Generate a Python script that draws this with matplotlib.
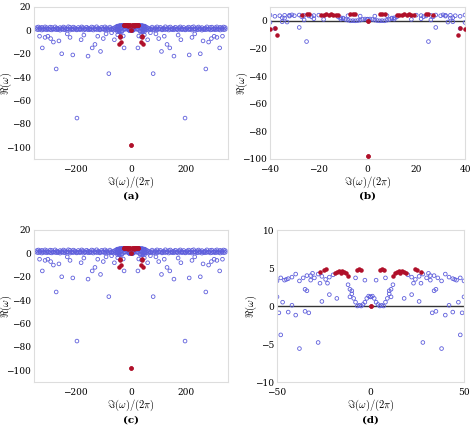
import matplotlib
matplotlib.use("Agg")
import matplotlib.pyplot as plt
import numpy as np

plt.rcParams['mathtext.fontset'] = 'cm'
plt.rcParams['font.family'] = 'DejaVu Serif'

# positive-half eigenvalues (spectrum symmetric in Im)
blue_in_x = [0,1,2,3,4,5,6,7,8,9,10,11,12,3,8,10,11,20,22,24,26,28,30,32,34,36,38,40,42,44,46,48,50,
             22,26,28,33,35,38,40,42,44,47,48,49,50,34,35,18,23,27,32,31,45]
blue_in_y = [1.2,1.3,1.0,0.5,0.2,0.0,0.1,0.0,0.5,1.0,1.6,2.2,2.8,3.4,3.7,2.0,1.2,4.1,3.8,3.5,3.9,4.2,3.7,3.4,4.0,3.7,3.3,4.2,3.8,3.6,3.4,3.7,3.3,
             1.5,0.6,-4.8,-0.9,-0.7,-5.6,-1.2,0.1,-0.8,0.5,-3.8,-0.9,1.2,2.0,2.2,1.0,3.0,3.0,4.0,4.3,3.5]
red_in_x = [0,12,13,14,15,16,17,18,19,24,25,27,5,6,7]
red_in_y = [0.0,4.0,4.3,4.5,4.6,4.4,4.6,4.5,4.3,4.9,4.7,4.5,4.8,4.9,4.8]
band_x = [52,58,64,70,76,82,88,94,100,106,112,118,124,130,136,142,148,154,160,166,172,178,184,190,196,
          202,208,214,220,226,232,238,244,250,256,262,268,274,280,286,292,298,304,310,316,322,328,334,340]
band_y = [3.2,2.5,1.8,1.2,2.8,0.9,2.2,3.0,1.5,2.6,0.8,2.0,3.1,1.3,2.4,2.9,0.7,1.9,2.7,1.1,2.3,3.0,1.6,2.5,0.9,
          2.1,2.8,1.4,2.6,3.1,1.0,2.2,2.9,1.7,2.4,0.8,2.0,3.0,1.3,2.5,2.8,1.1,2.3,3.0,1.6,2.6,2.0,2.9,2.4]
band2_y = [0.5,1.0,0.2,0.8,1.4,0.3,1.1,0.6,0.9,1.3,0.4,1.0,0.7,1.2,0.3,0.9,1.4,0.5,1.1,0.8,0.2,1.3,0.6,1.0,0.4,
           1.2,0.7,0.9,0.3,1.1,1.4,0.5,0.8,1.0,0.2,1.3,0.6,0.9,1.1,0.4,0.7,1.2,0.5,1.0,0.8,0.3,1.1,0.6,0.9]
out_x = [270,195,80,155,210,320,110,300,290,250,140,130,180,220,100,60,25,230,170,120,90,70,260,310,330,280]
out_y = [-33,-75,-37,-22,-21,-15,-18,-5,-7,-20,-15,-12,-8,-6,-7,-8,-15,-3,-4,-5,-3,-2,-9,-6,-5,-10]
red_out_x = [40,43,38,37,0]
red_out_y = [-6,-12,-5,-10,-98]

def mirror(x, y):
    x = np.asarray(x, float); y = np.asarray(y, float)
    return np.concatenate([x, -x]), np.concatenate([y, y])

bx, by = mirror(blue_in_x + band_x + band_x + out_x, blue_in_y + band_y + band2_y + out_y)
rx, ry = mirror(red_in_x + red_out_x, red_in_y + red_out_y)
rdx, rdy = mirror(red_in_x, red_in_y)

fig = plt.figure(figsize=(4.74, 4.30), dpi=100)
W, H = 474, 430
panels = [
    ((34, 7, 228, 159), (-350, 350), (-110, 20), [-200, 0, 200], [-100, -80, -60, -40, -20, 0, 20], False, '(a)', 196, (rx, ry), 14),
    ((270, 7, 465, 159), (-40, 40), (-100, 10), [-40, -20, 0, 20, 40], [-100, -80, -60, -40, -20, 0], True, '(b)', 196, (rx, ry), 250),
    ((34, 230, 228, 382), (-350, 350), (-110, 20), [-200, 0, 200], [-100, -80, -60, -40, -20, 0, 20], False, '(c)', 420, (rx, ry), 14),
    ((277, 230, 464, 382), (-50, 50), (-10, 10), [-50, 0, 50], [-10, -5, 0, 5, 10], True, '(d)', 420, (rdx, rdy), 259),
]
for (l, t, r, b), xl, yl, xt, yt, line, lab, ly, (px, py), ylx in panels:
    ax = fig.add_axes([l / W, 1 - b / H, (r - l) / W, (b - t) / H])
    if line:
        ax.axhline(0, color='#333333', lw=1.0, zorder=1)
    ax.scatter(bx, by, s=7, facecolors='none', edgecolors='#5f5fdc', linewidths=0.6, zorder=2)
    ax.scatter(px, py, s=5, color='#b0102a', zorder=3)
    ax.set_xlim(*xl); ax.set_ylim(*yl)
    ax.set_xticks(xt); ax.set_yticks(yt)
    ax.tick_params(labelsize=6.5, length=0, pad=2)
    ax.tick_params(axis='x', pad=4)
    for s in ax.spines.values():
        s.set_color('#dddddd')
    ax.set_xlabel(r'$\Im(\omega)/(2\pi)$', fontsize=7.5, labelpad=1)
    ax.set_ylabel(r'$\Re(\omega)$', fontsize=7.5)
    ax.yaxis.set_label_coords((ylx - l) / (r - l), 0.5)
    fig.text((l + r) / 2 / W, 1 - ly / H, lab, ha='center', va='center', fontsize=7.5, fontweight='bold')

fig.savefig('out.png', dpi=100)
